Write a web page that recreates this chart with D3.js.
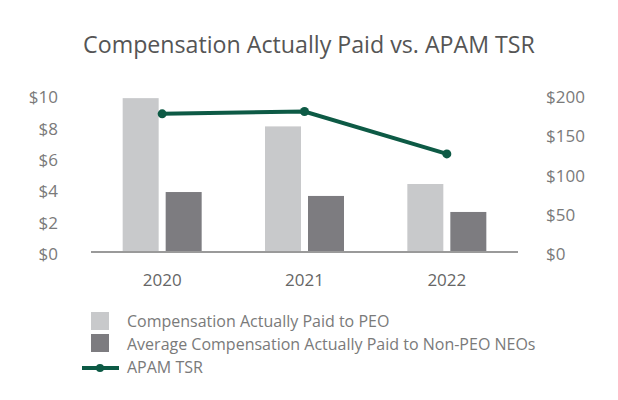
<!DOCTYPE html>
<html><head><meta charset="utf-8">
<script src="https://cdn.jsdelivr.net/npm/d3@7"></script>
<style>body{margin:0;background:#fff}svg{display:block}text{font-family:"Open Sans",sans-serif}</style>
</head><body>
<script>
const years = ["2020","2021","2022"];
const peo = [9.8, 8.0, 4.33];
const neo = [3.82, 3.57, 2.55];
const tsr = [176, 179, 125];
const leftTicks = [0,2,4,6,8,10];
const rightTicks = [0,50,100,150,200];
const legendLabels = ["Compensation Actually Paid to PEO","Average Compensation Actually Paid to Non-PEO NEOs","APAM TSR"];

const W=618,H=400;
const svg=d3.select("body").append("svg").attr("width",W).attr("height",H);
const colPeo="#c8c9cb", colNeo="#7d7c80", colLine="#0d5a45", txt="#7a7a7a";

svg.append("text").attr("x",309).attr("y",53).attr("text-anchor","middle")
  .attr("font-size",23.2).attr("fill","#555").text("Compensation Actually Paid vs. APAM TSR");

const x=d3.scaleBand().domain(years).range([91,518]);
const yL=d3.scaleLinear().domain([0,10]).range([252,95]);
const yR=d3.scaleLinear().domain([0,200]).range([252,95]);
const bw=36, gap=7;

const g=svg.append("g");
g.selectAll(".peo").data(years).join("rect")
  .attr("x",(d)=>x(d)+x.bandwidth()/2-gap/2-bw).attr("width",bw)
  .attr("y",(d,i)=>yL(peo[i])).attr("height",(d,i)=>yL(0)-yL(peo[i])).attr("fill",colPeo);
g.selectAll(".neo").data(years).join("rect").attr("class","neo")
  .attr("x",(d)=>x(d)+x.bandwidth()/2+gap/2).attr("width",bw)
  .attr("y",(d,i)=>yL(neo[i])).attr("height",(d,i)=>yL(0)-yL(neo[i])).attr("fill",colNeo);

// baseline
svg.append("line").attr("x1",91).attr("x2",518).attr("y1",yL(0)).attr("y2",yL(0))
  .attr("stroke","#9a9a9a").attr("stroke-width",2);

// left axis
const la=svg.append("g").attr("transform","translate(58,0)")
  .call(d3.axisLeft(yL).tickValues(leftTicks).tickSize(0).tickPadding(0).tickFormat(d=>"$"+d));
la.select(".domain").remove();
la.selectAll("text").attr("font-size",17).attr("fill",txt).attr("font-family","Open Sans").attr("dy","0.45em");

const ra=svg.append("g").attr("transform","translate(546,0)")
  .call(d3.axisRight(yR).tickValues(rightTicks).tickSize(0).tickPadding(0).tickFormat(d=>"$"+d));
ra.select(".domain").remove();
ra.selectAll("text").attr("font-size",17).attr("fill",txt).attr("font-family","Open Sans").attr("dy","0.45em");

// x axis labels
const xa=svg.append("g").attr("transform","translate(0,271)")
  .call(d3.axisBottom(x).tickSize(0).tickPadding(0));
xa.select(".domain").remove();
xa.selectAll("text").attr("font-size",17).attr("fill","#666").attr("font-family","Open Sans").attr("dy","0.9em");

// TSR line
const line=d3.line().x((d,i)=>x(years[i])+x.bandwidth()/2).y(d=>yR(d));
svg.append("path").attr("d",line(tsr)).attr("fill","none").attr("stroke",colLine).attr("stroke-width",4);
svg.selectAll(".dot").data(tsr).join("circle")
  .attr("cx",(d,i)=>x(years[i])+x.bandwidth()/2).attr("cy",d=>yR(d)).attr("r",4.5).attr("fill",colLine);

// legend
const lg=svg.append("g");
lg.append("rect").attr("x",91).attr("y",312).attr("width",18).attr("height",18).attr("fill",colPeo);
lg.append("rect").attr("x",91).attr("y",334).attr("width",18).attr("height",18).attr("fill",colNeo);
lg.append("line").attr("x1",82).attr("x2",119).attr("y1",368).attr("y2",368).attr("stroke",colLine).attr("stroke-width",4);
lg.append("circle").attr("cx",100).attr("cy",368).attr("r",4).attr("fill",colLine);
[321,344,367].forEach((yy,i)=>{
  lg.append("text").attr("x",127).attr("y",yy).attr("dy","0.35em").attr("font-size",16).attr("fill",txt).text(legendLabels[i]);
});
</script>
</body></html>
